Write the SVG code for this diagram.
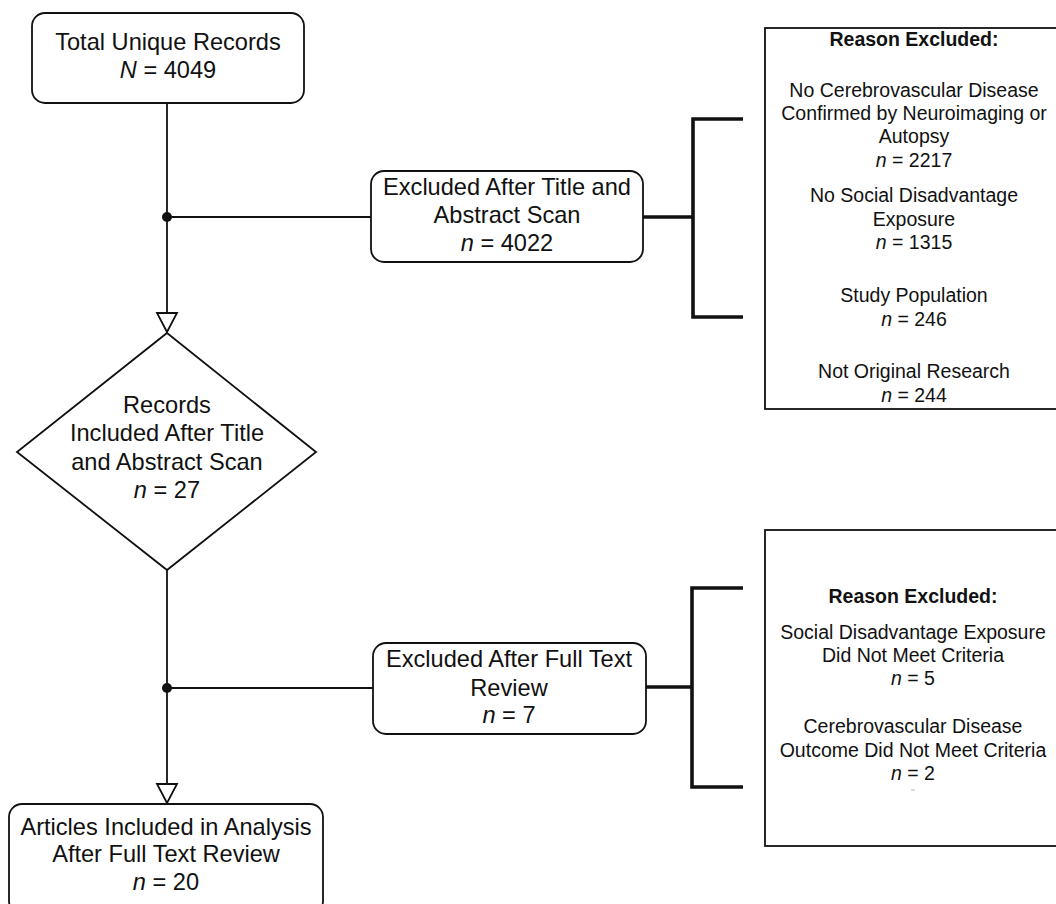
<svg xmlns="http://www.w3.org/2000/svg" width="1056" height="904" viewBox="0 0 1056 904">
<style>
text{font-family:"Liberation Sans",Arial,Helvetica,sans-serif;fill:#111;text-anchor:middle}
.t{font-size:23.6px}
.r{font-size:19.5px}
.b{font-weight:bold}
.i{font-style:italic}
.box{fill:#fff;stroke:#111;stroke-width:1.8}
.line{stroke:#111;stroke-width:1.8;fill:none}
.br{stroke:#111;stroke-width:3.6;fill:none}
.tri{fill:#fff;stroke:#111;stroke-width:1.8}
</style>
<rect width="1056" height="904" fill="#fff"/>
<g id="connectors">
<line class="line" x1="167" y1="103" x2="167" y2="313"/>
<line class="line" x1="167" y1="217" x2="371" y2="217"/>
<circle cx="167" cy="217" r="5" fill="#111"/>
<polygon class="tri" points="157,313 177,313 167,332"/>
<line class="line" x1="167" y1="570" x2="167" y2="784"/>
<line class="line" x1="167" y1="688" x2="373" y2="688"/>
<circle cx="167" cy="688" r="5" fill="#111"/>
<polygon class="tri" points="157,784 177,784 167,803"/>
<line class="br" x1="643" y1="217" x2="693" y2="217"/>
<polyline class="br" points="743,119 693,119 693,317 743,317"/>
<line class="br" x1="646" y1="687" x2="692" y2="687"/>
<polyline class="br" points="743,588 692,588 692,787 743,787"/>
</g>
<g id="n1">
<rect class="box" x="32" y="13" width="272" height="90" rx="13"/>
<text class="t" x="168" y="50">Total Unique Records</text>
<text class="t" x="168" y="78"><tspan class="i">N</tspan> = 4049</text>
</g>
<g id="n2">
<rect class="box" x="371" y="171" width="272" height="91" rx="13"/>
<text class="t" x="507" y="195">Excluded After Title and</text>
<text class="t" x="507" y="223">Abstract Scan</text>
<text class="t" x="507" y="251"><tspan class="i">n</tspan> = 4022</text>
</g>
<g id="n3">
<rect class="box" x="765" y="28" width="300" height="381"/>
<text class="r b" x="914" y="46">Reason Excluded:</text>
<text class="r" x="914" y="97">No Cerebrovascular Disease</text>
<text class="r" x="914" y="120">Confirmed by Neuroimaging or</text>
<text class="r" x="914" y="143">Autopsy</text>
<text class="r" x="914" y="167"><tspan class="i">n</tspan> = 2217</text>
<text class="r" x="914" y="202">No Social Disadvantage</text>
<text class="r" x="914" y="226">Exposure</text>
<text class="r" x="914" y="249"><tspan class="i">n</tspan> = 1315</text>
<text class="r" x="914" y="302">Study Population</text>
<text class="r" x="914" y="326"><tspan class="i">n</tspan> = 246</text>
<text class="r" x="914" y="378">Not Original Research</text>
<text class="r" x="914" y="402"><tspan class="i">n</tspan> = 244</text>
</g>
<g id="n4">
<polygon class="box" points="167,333 316,452 167,570 17,452"/>
<text class="t" x="167" y="413">Records</text>
<text class="t" x="167" y="441">Included After Title</text>
<text class="t" x="167" y="470">and Abstract Scan</text>
<text class="t" x="167" y="498"><tspan class="i">n</tspan> = 27</text>
</g>
<g id="n5">
<rect class="box" x="373" y="643" width="273" height="91" rx="13"/>
<text class="t" x="509" y="667">Excluded After Full Text</text>
<text class="t" x="509" y="696">Review</text>
<text class="t" x="509" y="723"><tspan class="i">n</tspan> = 7</text>
</g>
<g id="n6">
<rect class="box" x="765" y="530" width="300" height="316"/>
<text class="r b" x="913" y="603">Reason Excluded:</text>
<text class="r" x="913" y="639">Social Disadvantage Exposure</text>
<text class="r" x="913" y="662">Did Not Meet Criteria</text>
<text class="r" x="913" y="685"><tspan class="i">n</tspan> = 5</text>
<text class="r" x="913" y="733">Cerebrovascular Disease</text>
<text class="r" x="913" y="757">Outcome Did Not Meet Criteria</text>
<text class="r" x="913" y="780"><tspan class="i">n</tspan> = 2</text>
<line x1="911" y1="790" x2="915" y2="790" stroke="#bbb" stroke-width="1"/>
</g>
<g id="n7">
<rect class="box" x="9" y="804" width="314" height="110" rx="13"/>
<text class="t" x="166" y="835">Articles Included in Analysis</text>
<text class="t" x="166" y="862">After Full Text Review</text>
<text class="t" x="166" y="890"><tspan class="i">n</tspan> = 20</text>
</g>
</svg>
